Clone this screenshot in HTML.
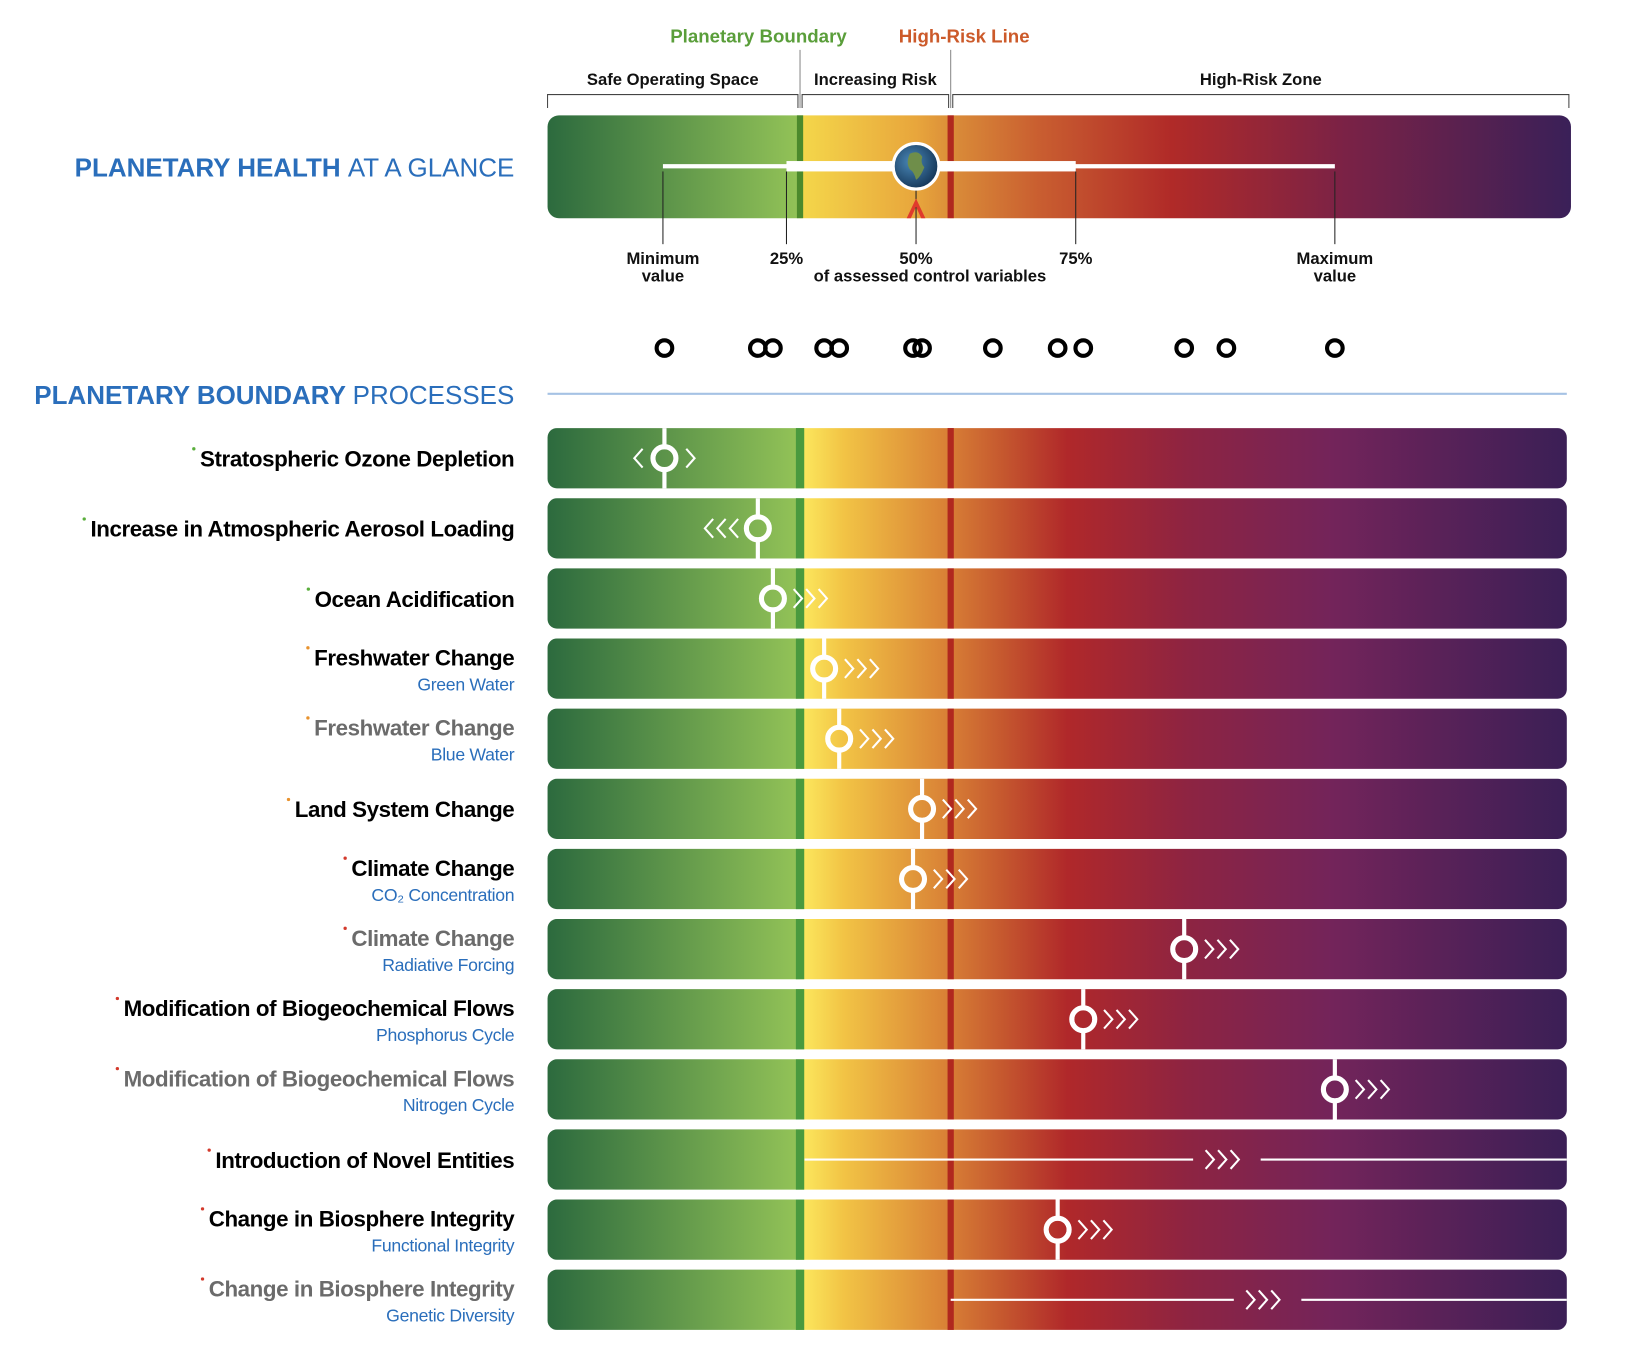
<!DOCTYPE html>
<html><head><meta charset="utf-8">
<style>
html,body{margin:0;padding:0;background:#fff;width:1628px;height:1356px;overflow:hidden}
#wrap{width:1570px;height:1310px;transform:scale(1.039);transform-origin:0 0}
svg text{font-family:"Liberation Sans",sans-serif}
</style></head>
<body>
<div id="wrap">
<svg id="chart" width="1570" height="1310" viewBox="0 0 1570 1310">
<defs>
<linearGradient id="topGrad" gradientUnits="userSpaceOnUse" x1="527" x2="1512" y1="0" y2="0">
<stop offset="0" stop-color="#2c6a3e"/><stop offset="0.244" stop-color="#92c257"/>
<stop offset="0.25" stop-color="#f4d64a"/><stop offset="0.36" stop-color="#e8a63c"/>
<stop offset="0.40" stop-color="#d98a38"/><stop offset="0.48" stop-color="#c95e30"/>
<stop offset="0.61" stop-color="#b02a28"/><stop offset="0.78" stop-color="#7a2246"/>
<stop offset="1" stop-color="#3a2058"/></linearGradient>
<linearGradient id="rowGrad" gradientUnits="userSpaceOnUse" x1="527" x2="1508" y1="0" y2="0">
<stop offset="0" stop-color="#2c6a3e"/><stop offset="0.244" stop-color="#92c257"/>
<stop offset="0.253" stop-color="#fbe55c"/><stop offset="0.29" stop-color="#f2c445"/>
<stop offset="0.39" stop-color="#d98236"/><stop offset="0.45" stop-color="#c4552e"/>
<stop offset="0.51" stop-color="#b0282a"/><stop offset="0.63" stop-color="#8d2442"/>
<stop offset="0.77" stop-color="#73245a"/><stop offset="1" stop-color="#3b1f56"/></linearGradient>
<radialGradient id="earth" cx="0.4" cy="0.4" r="0.7"><stop offset="0" stop-color="#4a88b8"/><stop offset="1" stop-color="#0e2c4c"/></radialGradient>
</defs>
<g id="topgroup"></g>
<g id="rows"></g>
</svg>
</div>
<script>
// ---- data ----
const processNames = ["Stratospheric Ozone Depletion","Increase in Atmospheric Aerosol Loading","Ocean Acidification","Freshwater Change","Freshwater Change","Land System Change","Climate Change","Climate Change","Modification of Biogeochemical Flows","Modification of Biogeochemical Flows","Introduction of Novel Entities","Change in Biosphere Integrity","Change in Biosphere Integrity"];
const subNames = ["","","","Green Water","Blue Water","","CO₂ Concentration","Radiative Forcing","Phosphorus Cycle","Nitrogen Cycle","","Functional Integrity","Genetic Diversity"];
const secondary = [false,false,false,false,true,false,false,true,false,true,false,false,true];
const statusColor = ["#5aae3c","#5aae3c","#5aae3c","#e8922e","#e8922e","#e8922e","#d33a2c","#d33a2c","#d33a2c","#d33a2c","#d33a2c","#d33a2c","#d33a2c"];
// values in boundary units: 0 = planetary boundary, 1 = high-risk line; null = not quantified
const processValues = [-0.90,-0.28,-0.18,0.16,0.26,0.81,0.75,2.55,1.88,3.55,null,1.71,null];
const trend = ["both","down","up","up","up","up","up","up","up","up","up","up","up"];
const unquantStart = [null,null,null,null,null,null,null,null,null,null,0.03,null,1.0];
const unquantMid = [null,null,null,null,null,null,null,null,null,null,2.83,null,3.10];
const dotValues = [-0.90,-0.28,-0.18,0.16,0.26,0.75,0.81,1.28,1.71,1.88,2.55,2.83,3.55];
const summaryMin = -0.91, summaryQ1 = -0.09, summaryMedian = 0.77, summaryQ3 = 1.83, summaryMax = 3.55;
const pctLabels = ["25%","50%","75%"];

// ---- axis ----
const X0 = 770, X1 = 915;
function xScale(v){ return X0 + v*(X1-X0); }
const NS="http://www.w3.org/2000/svg";
function mk(parent, tag, attrs, text){
  const e=document.createElementNS(NS,tag);
  for(const k in attrs) e.setAttribute(k,attrs[k]);
  if(text!==undefined) e.textContent=text;
  parent.appendChild(e); return e;
}
const topG=document.getElementById('topgroup');
const rowsG=document.getElementById('rows');

// ---- top section ----
let t;
t=mk(topG,'text',{x:730,y:41,'text-anchor':'middle','font-size':18,'font-weight':'bold',fill:'#5a9e3a'},'Planetary Boundary');


t=mk(topG,'text',{x:928,y:41,'text-anchor':'middle','font-size':18,'font-weight':'bold',fill:'#cc5a2a'},'High-Risk Line');


mk(topG,'line',{x1:770,x2:770,y1:48,y2:104,stroke:'#888','stroke-width':1});
mk(topG,'line',{x1:915,x2:915,y1:48,y2:104,stroke:'#888','stroke-width':1});
const zones=[["Safe Operating Space",527,768],["Increasing Risk",772,913],["High-Risk Zone",917,1510]];
zones.forEach((z,i)=>{
  const g=mk(topG,'g',{});
  
  
  mk(g,'polyline',{points:`${z[1]},104 ${z[1]},91 ${z[2]},91 ${z[2]},104`,fill:'none',stroke:'#444','stroke-width':1});
  mk(g,'text',{x:(z[1]+z[2])/2,y:82,'text-anchor':'middle','font-size':16,'font-weight':'bold',fill:'#111'},z[0]);
});
t=mk(topG,'text',{x:495,y:170,'text-anchor':'end','font-size':25,fill:'#2a6ebb'});


mk(t,'tspan',{'font-weight':'bold'},'PLANETARY HEALTH ');mk(t,'tspan',{},'AT A GLANCE');
const topBar=mk(topG,'rect',{x:527,y:111,width:985,height:99,rx:11,fill:'url(#topGrad)'});


mk(topG,'rect',{x:xScale(0)-3,y:111,width:6,height:99,fill:'#4c8a2c'});
mk(topG,'rect',{x:xScale(1)-3,y:111,width:6,height:99,fill:'#b0281e'});
const summ=[summaryMin,summaryQ1,summaryMedian,summaryQ3,summaryMax];
summ.forEach(v=>mk(topG,'line',{x1:xScale(v),x2:xScale(v),y1:165,y2:235,stroke:'#222','stroke-width':1}));
const wl=mk(topG,'line',{x1:xScale(summaryMin),x2:xScale(summaryMax),y1:160,y2:160,stroke:'#fff','stroke-width':4});


const bx=mk(topG,'rect',{x:xScale(summaryQ1),y:155,width:xScale(summaryQ3)-xScale(summaryQ1),height:10,fill:'#fff'});


const eg=mk(topG,'g',{});


const mx=xScale(summaryMedian);
mk(eg,'circle',{cx:mx,cy:160,r:22,fill:'url(#earth)',stroke:'#fff','stroke-width':3});
mk(eg,'path',{d:`M${mx-6} 148 q8 -4 12 3 q-2 6 2 10 q-4 10 -8 12 q-2 -8 -6 -10 q-4 -6 0 -15z`,fill:'#6f8e4a'});
mk(eg,'path',{d:`M${mx-9} 210 L${mx} 191 L${mx+9} 210 L${mx+5} 210 L${mx} 199 L${mx-5} 210z`,fill:'#e03a2c'});
const lbls=[["Minimum","value",summaryMin],[pctLabels[0],"",summaryQ1],[pctLabels[1],"",summaryMedian],[pctLabels[2],"",summaryQ3],["Maximum","value",summaryMax]];
lbls.forEach((l,i)=>{
  const g=mk(topG,'g',{});
  
  
  mk(g,'text',{x:xScale(l[2]),y:254,'text-anchor':'middle','font-size':16,'font-weight':'bold',fill:'#111'},l[0]);
  if(l[1]) mk(g,'text',{x:xScale(l[2]),y:271,'text-anchor':'middle','font-size':16,'font-weight':'bold',fill:'#111'},l[1]);
});
t=mk(topG,'text',{x:895,y:271,'text-anchor':'middle','font-size':16,'font-weight':'bold',fill:'#111','font-family':'Liberation Mono, monospace'},'of assessed control variables');


dotValues.forEach((v,i)=>{
  const c=mk(topG,'circle',{cx:xScale(v),cy:335,r:7.5,fill:'none',stroke:'#000','stroke-width':4});
  
  
});
t=mk(topG,'text',{x:495,y:389,'text-anchor':'end','font-size':25,fill:'#2a6ebb'});


mk(t,'tspan',{'font-weight':'bold'},'PLANETARY BOUNDARY ');mk(t,'tspan',{},'PROCESSES');
mk(topG,'line',{x1:527,x2:1508,y1:379,y2:379,stroke:'#a6c2e4','stroke-width':2});

// ---- rows ----
function chevrons(g,x,y,dir,n){
  for(let k=0;k<n;k++){
    const cx=x+dir*k*12;
    mk(g,'polyline',{points:`${cx-dir*4},${y-9} ${cx+dir*4},${y} ${cx-dir*4},${y+9}`,fill:'none',stroke:'#fff','stroke-width':2});
  }
}
processNames.forEach((name,i)=>{
  const y0=412+i*67.5, h=58, cy=y0+h/2;
  const g=mk(rowsG,'g',{});
  
  
  const r=mk(g,'rect',{x:527,y:y0,width:981,height:h,rx:9,fill:'url(#rowGrad)'});
  
  
  mk(g,'rect',{x:xScale(0)-4,y:y0,width:8,height:h,fill:'#4a9a3e'});
  mk(g,'rect',{x:xScale(1)-3,y:y0,width:6,height:h,fill:'#b0281e'});
  const twoLine=!!subNames[i];
  const ly=twoLine?cy-3:cy+8;
  const lt=mk(g,'text',{x:495,y:ly,'text-anchor':'end','font-size':21.5,'font-weight':'bold',fill:secondary[i]?'#6b6b6b':'#000','letter-spacing':'-0.4'},name);
  
  
  let bb=0;
  try{ bb=lt.getComputedTextLength(); }catch(e){ bb=name.length*11; }
  mk(g,'circle',{cx:495-bb-6,cy:ly-17,r:1.6,fill:statusColor[i]});
  if(twoLine){
    const st=mk(g,'text',{x:495,y:cy+21,'text-anchor':'end','font-size':17,fill:'#2a6ebb','letter-spacing':'-0.3'},subNames[i]);
    
    
  }
  const v=processValues[i];
  if(v!==null){
    const x=xScale(v);
    const m=mk(g,'g',{});
    
    
    mk(m,'line',{x1:x,x2:x,y1:y0,y2:y0+h,stroke:'#fff','stroke-width':4});
    mk(m,'circle',{cx:x,cy:cy,r:11,fill:'none',stroke:'#fff','stroke-width':5});
    mk(m,'circle',{cx:x,cy:cy,r:8.5,fill:'url(#rowGrad)'});
    if(trend[i]==='up') chevrons(m,x+24,cy,1,3);
    if(trend[i]==='down') chevrons(m,x-23,cy,-1,3);
    if(trend[i]==='both'){chevrons(m,x+25,cy,1,1);chevrons(m,x-25,cy,-1,1);}
  } else {
    const xs=xScale(unquantStart[i]);
    const chx=xScale(unquantMid[i]);
    const m=mk(g,'g',{});
    
    
    mk(m,'line',{x1:xs,x2:chx-32,y1:cy,y2:cy,stroke:'#fff','stroke-width':2});
    chevrons(m,chx-16,cy,1,3);
    mk(m,'line',{x1:chx+33,x2:1508,y1:cy,y2:cy,stroke:'#fff','stroke-width':2});
  }
});
</script>
</body></html>
